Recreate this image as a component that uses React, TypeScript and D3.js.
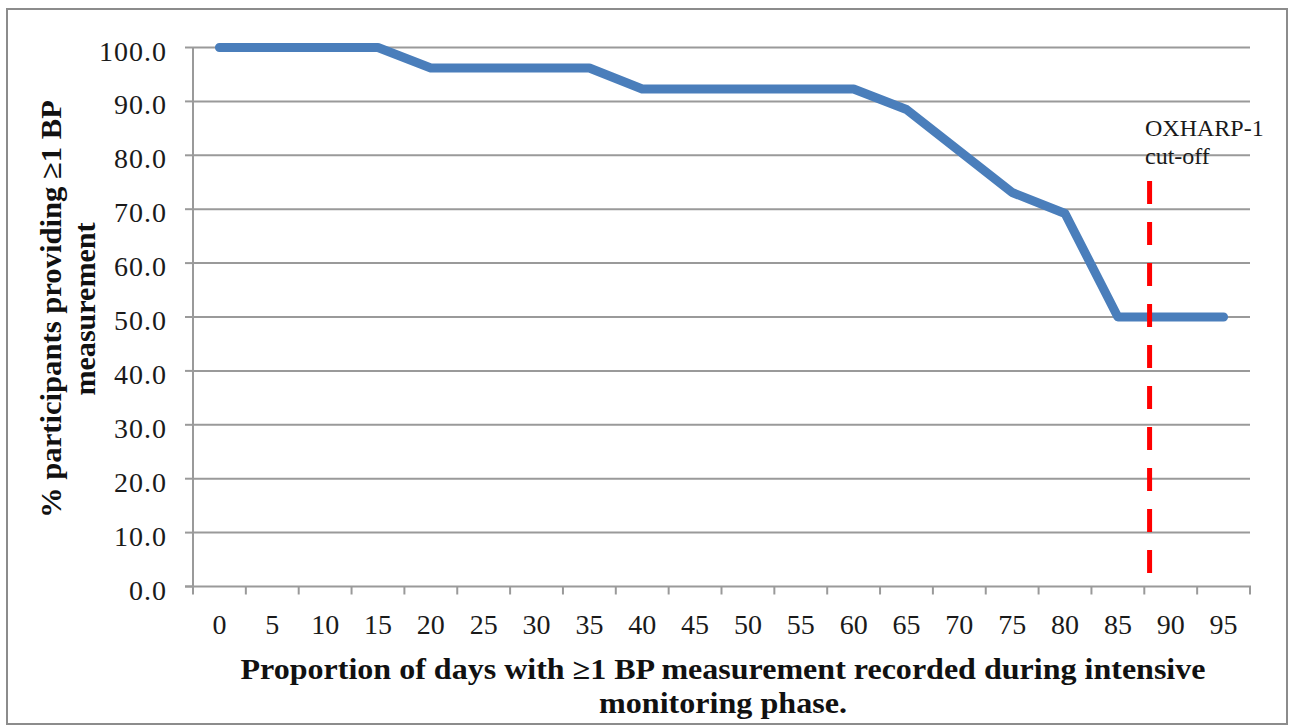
import React from "react";
import * as d3 from "d3";

const categories: string[] = ["0","5","10","15","20","25","30","35","40","45","50","55","60","65","70","75","80","85","90","95"];
const values: number[] = [100,100,100,100,96.2,96.2,96.2,96.2,92.3,92.3,92.3,92.3,92.3,88.5,80.8,73.1,69.2,50,50,50];
const yTicks: number[] = [0,10,20,30,40,50,60,70,80,90,100];
const cutoffPosition = 18.1; // position in category-band units from the axis start (≈ 88%)
const yTitleLines = ["% participants providing \u22651 BP", "measurement"];
const xTitleLines = ["Proportion of days with \u22651 BP measurement recorded during intensive", "monitoring phase."];
const cutoffLabel = ["OXHARP-1", "cut-off"];

export default function App() {
  const W = 1292, H = 727;
  const left = 193, right = 1250, top = 47.5, bottom = 586.5;
  const x = d3.scaleBand<string>().domain(categories).range([left, right]).paddingInner(0).paddingOuter(0);
  const y = d3.scaleLinear().domain([0, 100]).range([bottom, top]);
  const bw = x.bandwidth();
  const line = d3.line<number>()
    .x((_, i) => (x(categories[i]) as number) + bw / 2)
    .y((d) => y(d));
  const cutX = left + cutoffPosition * bw;
  const font = "'Liberation Serif', 'Times New Roman', serif";
  const grid = "#9a9a9a";
  const boundaries = d3.range(categories.length + 1).map((i) => left + i * bw);
  const yTitleLen = [418, 173];
  const xTitleLen = [965, 248];

  return (
    <svg width={W} height={H} style={{ position: "absolute", left: 0, top: 0, background: "#fff" }} fontFamily={font}>
      <rect x={0} y={0} width={W} height={H} fill="#fff" />
      <rect x={7} y={9} width={1280} height={715} fill="#fff" stroke="#8c8c8c" strokeWidth={2} />
      {yTicks.filter((t) => t > 0).map((t) => (
        <line key={"g" + t} x1={left} x2={right} y1={y(t)} y2={y(t)} stroke={grid} strokeWidth={2} />
      ))}
      {yTicks.map((t) => (
        <line key={"yt" + t} x1={left - 8} x2={left} y1={y(t)} y2={y(t)} stroke={grid} strokeWidth={2} />
      ))}
      <line x1={left} x2={left} y1={top} y2={bottom} stroke={grid} strokeWidth={2} />
      <line x1={left - 8} x2={right + 1} y1={bottom} y2={bottom} stroke={grid} strokeWidth={2} />
      {boundaries.map((bx, i) => (
        <line key={"xt" + i} x1={bx} x2={bx} y1={bottom} y2={bottom + 8} stroke={grid} strokeWidth={2} />
      ))}
      {yTicks.map((t) => (
        <text key={"yl" + t} x={167} y={y(t) + 13} textAnchor="end" fontSize={28} letterSpacing={1} fill="#1a1a1a">
          {t.toFixed(1)}
        </text>
      ))}
      {categories.map((c) => (
        <text key={"xl" + c} x={(x(c) as number) + bw / 2} y={634} textAnchor="middle" fontSize={28} fill="#1a1a1a">
          {c}
        </text>
      ))}
      <path d={line(values) || ""} fill="none" stroke="#4a7ebb" strokeWidth={9} strokeLinejoin="round" strokeLinecap="round" />
      <line x1={cutX} x2={cutX} y1={181} y2={bottom} stroke="#ff0000" strokeWidth={5} strokeDasharray="23 18" />
      <text x={1145} y={136} fontSize={24} fill="#1a1a1a">{cutoffLabel[0]}</text>
      <text x={1145} y={164} fontSize={24} fill="#1a1a1a">{cutoffLabel[1]}</text>
      {yTitleLines.map((s, i) => (
        <text key={"ytt" + i} transform={`translate(${61 + i * 34},309) rotate(-90)`} textAnchor="middle" fontSize={29} fontWeight="bold" fill="#111"
          textLength={yTitleLen[i]} lengthAdjust="spacingAndGlyphs">
          {s}
        </text>
      ))}
      {xTitleLines.map((s, i) => (
        <text key={"xti" + i} x={723} y={679 + i * 34} textAnchor="middle" fontSize={29} fontWeight="bold" fill="#111"
          textLength={xTitleLen[i]} lengthAdjust="spacingAndGlyphs">
          {s}
        </text>
      ))}
    </svg>
  );
}
